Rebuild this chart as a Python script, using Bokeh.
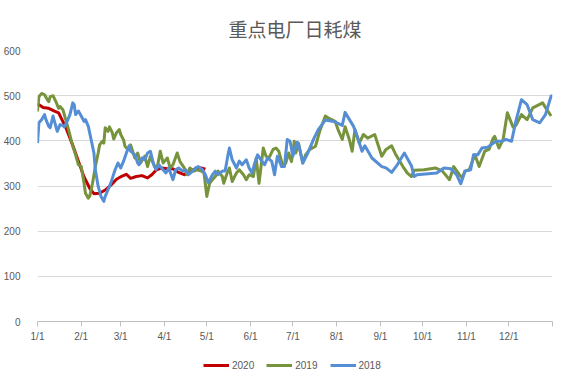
from bokeh.plotting import figure
from bokeh.layouts import column
from bokeh.models import FixedTicker, Legend, LegendItem, Range1d
from bokeh.embed import file_html
from bokeh.resources import INLINE

# ---- data (day of year, daily coal consumption, 10k t) ----
month_ticks = [0, 31, 59, 90, 120, 151, 181, 212, 243, 273, 304, 334, 365]
month_labels = ["1/1", "2/1", "3/1", "4/1", "5/1", "6/1", "7/1", "8/1", "9/1",
                "10/1", "11/1", "12/1", ""]

days_2020 = [0, 4, 8, 12, 15, 20, 25, 29, 33, 37, 40, 44, 48, 52, 56, 60, 63, 66,
             70, 74, 78, 81, 84, 88, 92, 96, 100, 104, 108, 112, 116, 119]
vals_2020 = [482, 474, 472, 466, 462, 430, 390, 355, 320, 295, 283, 284, 291, 302,
             315, 322, 326, 317, 321, 323, 318, 325, 335, 340, 338, 338, 330, 325,
             333, 338, 340, 337]

days_2019 = [0, 1, 3, 5, 7, 8, 9, 11, 13, 15, 16, 18, 20, 22, 25, 27, 29, 31, 33, 34,
             36, 37, 39, 41, 43, 44, 46, 47, 48, 50, 51, 53, 54, 56, 58, 59, 61, 62,
             64, 66, 69, 71, 73, 76, 78, 80, 83, 85, 87, 89, 91, 92, 94, 96, 99, 101,
             104, 106, 108, 111, 113, 116, 118, 120, 122, 124, 126, 128, 131, 132,
             134, 136, 138, 141, 143, 146, 148, 150, 153, 155, 157, 160, 162, 164,
             167, 169, 171, 174, 176, 178, 180, 182, 183, 185, 188, 190, 193, 197,
             200, 204, 207, 211, 213, 216, 218, 221, 223, 225, 228, 231, 234, 239,
             244, 247, 251, 254, 259, 262, 265, 267, 274, 282, 287, 292, 295, 299,
             301, 303, 306, 310, 313, 317, 320, 323, 324, 327, 330, 333, 337, 339,
             343, 347, 351, 358, 361, 364]
vals_2019 = [465, 498, 505, 502, 491, 487, 498, 500, 487, 472, 476, 469, 447, 425,
             388, 369, 347, 343, 306, 284, 273, 277, 306, 343, 373, 391, 399, 395,
             429, 421, 431, 418, 404, 418, 425, 414, 402, 388, 381, 391, 362, 373,
             351, 366, 343, 366, 343, 343, 377, 351, 358, 362, 340, 347, 373, 354,
             340, 325, 340, 333, 336, 333, 329, 277, 306, 314, 321, 333, 321, 306,
             325, 340, 310, 329, 336, 325, 314, 325, 321, 362, 306, 384, 366, 362,
             381, 384, 377, 343, 351, 373, 354, 399, 373, 395, 351, 369, 381, 388,
             421, 455, 449, 443, 425, 403, 431, 403, 377, 425, 395, 414, 406, 414,
             366, 381, 389, 369, 343, 329, 321, 335, 336, 340, 333, 314, 343, 325,
             318, 333, 336, 369, 343, 377, 381, 406, 410, 384, 403, 462, 431, 434,
             458, 447, 473, 484, 469, 455]

days_2018 = [0, 1, 3, 5, 6, 8, 9, 11, 12, 14, 16, 18, 19, 21, 23, 25, 26, 27, 29, 31,
             33, 34, 36, 38, 40, 41, 43, 45, 47, 48, 50, 52, 55, 57, 59, 61, 63, 65,
             66, 69, 71, 72, 74, 76, 78, 80, 82, 84, 86, 89, 91, 93, 96, 98, 100, 103,
             105, 107, 110, 112, 114, 117, 119, 121, 124, 126, 128, 131, 133, 135,
             136, 138, 141, 143, 145, 148, 150, 152, 154, 156, 159, 161, 163, 166,
             168, 170, 173, 175, 177, 179, 181, 184, 185, 188, 191, 196, 199, 204,
             210, 216, 218, 224, 227, 230, 232, 237, 244, 247, 251, 255, 260, 265,
             267, 269, 283, 288, 293, 297, 300, 303, 307, 309, 312, 315, 319, 325,
             329, 332, 336, 339, 343, 347, 351, 356, 360, 364, 365]
vals_2018 = [395, 440, 447, 458, 447, 432, 429, 455, 443, 421, 436, 434, 431, 443,
             458, 484, 480, 458, 466, 455, 443, 447, 432, 403, 373, 336, 299, 277,
             266, 277, 292, 307, 336, 351, 340, 355, 373, 389, 377, 369, 351, 347,
             362, 358, 373, 377, 351, 336, 347, 336, 329, 340, 314, 336, 340, 333,
             336, 325, 333, 340, 343, 336, 325, 307, 325, 333, 325, 333, 333, 369,
             384, 358, 340, 355, 347, 358, 340, 329, 351, 369, 355, 347, 362, 355,
             325, 366, 343, 343, 403, 399, 366, 397, 392, 351, 369, 406, 425, 446,
             443, 434, 463, 432, 406, 377, 389, 362, 343, 340, 330, 347, 373, 345,
             321, 325, 329, 340, 338, 325, 305, 333, 336, 369, 369, 384, 386, 399,
             399, 403, 399, 443, 491, 480, 447, 440, 458, 499, 499]

series_names = ["2020", "2019", "2018"]
series_colors = ["#C00000", "#77933C", "#558ED5"]
series_data = [(days_2020, vals_2020), (days_2019, vals_2019), (days_2018, vals_2018)]

TXT = "#595959"

p = figure(width=559, height=345, output_backend="svg", toolbar_location=None,
           x_range=Range1d(0, 365), y_range=Range1d(0, 600),
           min_border_left=30, min_border_right=7, min_border_top=50,
           min_border_bottom=24, outline_line_color=None)

p.title.text = "重点电厂日耗煤"
p.title.align = "center"
p.title.offset = -13
p.title.text_font = "Noto Sans CJK SC"
p.title.text_font_size = "19px"
p.title.text_font_style = "normal"
p.title.text_color = TXT
p.title.standoff = 17

for (d, v), c in zip(series_data, series_colors):
    p.line(d, v, line_color=c, line_width=3, line_join="round")

# axes
p.xaxis.ticker = FixedTicker(ticks=month_ticks)
p.xaxis.major_label_overrides = {t: l for t, l in zip(month_ticks, month_labels)}
p.xaxis.axis_line_color = "#BFBFBF"
p.xaxis.major_tick_line_color = "#BFBFBF"
p.xaxis.major_tick_out = 5
p.xaxis.major_tick_in = 0
p.xaxis.minor_tick_line_color = None
p.xaxis.major_label_standoff = 4
p.xaxis.major_label_text_font = "Liberation Sans"
p.xaxis.major_label_text_font_size = "10px"
p.xaxis.major_label_text_color = TXT

p.yaxis.ticker = FixedTicker(ticks=[0, 100, 200, 300, 400, 500, 600])
p.yaxis.axis_line_color = None
p.yaxis.major_tick_line_color = None
p.yaxis.minor_tick_line_color = None
p.yaxis.major_label_standoff = 11
p.yaxis.major_label_text_font = "Liberation Sans"
p.yaxis.major_label_text_font_size = "10px"
p.yaxis.major_label_text_color = TXT

p.xgrid.grid_line_color = None
p.ygrid.grid_line_color = "#D9D9D9"
p.ygrid.grid_line_width = 1

# legend strip below the chart (series drawn out of its view, only the legend shows)
lg = figure(width=559, height=30, output_backend="svg", toolbar_location=None,
            x_range=Range1d(-20, -10), y_range=Range1d(0, 1),
            x_axis_type=None, y_axis_type=None, min_border=0,
            outline_line_color=None)
lg.xgrid.visible = False
lg.ygrid.visible = False
items = []
for n, (d, v), c in zip(series_names, series_data, series_colors):
    r = lg.line(d, v, line_color=c, line_width=3)
    items.append(LegendItem(label=n, renderers=[r]))
legend = Legend(items=items, orientation="horizontal", location=(166, 3),
                glyph_width=26, glyph_height=14, label_height=14,
                label_standoff=3, spacing=12, padding=0, margin=0,
                border_line_color=None, background_fill_alpha=0,
                label_text_font="Liberation Sans", label_text_font_size="10px",
                label_text_color=TXT)
lg.add_layout(legend, "center")

open("out.html", "w").write(file_html(column(p, lg), INLINE))
